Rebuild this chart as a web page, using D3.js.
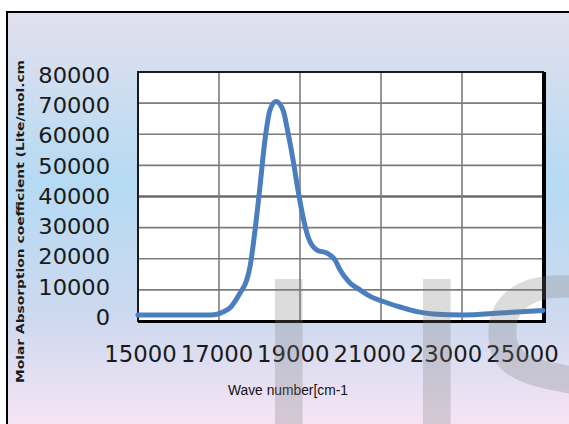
<!DOCTYPE html>
<html>
<head>
<meta charset="utf-8">
<script src="https://cdn.jsdelivr.net/npm/d3@7"></script>
<style>
  html, body { margin: 0; padding: 0; background: #ffffff; }
  svg { display: block; }
</style>
</head>
<body>
<svg id="chart" width="569" height="424"></svg>
<script>
// Absorption spectrum: wave number (cm-1) against molar absorption coefficient
const wavenumbers = [15000, 16000, 16780, 16975, 17110, 17270, 17520, 17685, 17765, 17890,
  18010, 18135, 18260, 18405, 18580, 18705, 18830, 18950, 19075, 19200,
  19420, 19665, 19865, 19990, 20235, 20480, 20720, 21000, 21470, 21890,
  22280, 23030, 23940, 25000];
const absorption = [1900, 1900, 1950, 2250, 3000, 4200, 9000, 13200, 17400, 29200,
  43000, 58200, 67800, 70500, 67800, 60400, 51700, 42100, 33400, 27000,
  22800, 21800, 19600, 16400, 12200, 10000, 8000, 6500, 4500, 3000,
  2250, 1950, 2550, 3400];

const xTicks = [15000, 17000, 19000, 21000, 23000, 25000];
const yTicks = [0, 10000, 20000, 30000, 40000, 50000, 60000, 70000, 80000];
const xTitle = "Wave number[cm-1";
const yTitle = "Molar Absorption coefficient (Lite/mol.cm";
const watermark = ["I", "J", "S"];

const svg = d3.select("#chart");
const W = 569, H = 424;

// Backdrop gradient
const defs = svg.append("defs");
const grad = defs.append("linearGradient")
  .attr("id", "bg").attr("x1", 0).attr("y1", 0).attr("x2", 0).attr("y2", 1);
[[0, "#e2e0ee"], [0.40, "#b5daf3"], [0.72, "#cdd9ef"], [1, "#fbe5f5"]].forEach(([o, c]) =>
  grad.append("stop").attr("offset", o).attr("stop-color", c));

svg.append("rect").attr("x", 7).attr("y", 12).attr("width", W).attr("height", H)
  .attr("fill", "url(#bg)").attr("stroke", "#000").attr("stroke-width", 2);

// Plot area
const plot = { left: 138, top: 72, right: 543, bottom: 321 };
const x = d3.scaleLinear().domain([15000, 25000]).range([plot.left, plot.right]);
const y = d3.scaleLinear().domain([0, 80000]).range([plot.bottom, plot.top]);

// Label positions (the tick text sits on a slightly tighter spread than the grid)
const xLab = d3.scaleLinear().domain([15000, 25000]).range([140, 522]);
const yLab = d3.scaleLinear().domain([0, 80000]).range([317, 75]);

svg.append("rect")
  .attr("x", plot.left).attr("y", plot.top)
  .attr("width", plot.right - plot.left).attr("height", plot.bottom - plot.top)
  .attr("fill", "#ffffff");

// Grid
const grid = svg.append("g").attr("class", "grid");
grid.selectAll("line.h").data(yTicks.slice(1, -1)).join("line")
  .attr("class", "h")
  .attr("x1", plot.left).attr("x2", plot.right)
  .attr("y1", d => y(d)).attr("y2", d => y(d))
  .attr("stroke", d => d === 40000 ? "#6a6a6a" : "#7c7c7c")
  .attr("stroke-width", d => d === 40000 ? 2.6 : 1.6);
grid.selectAll("line.v").data(xTicks.slice(1, -1)).join("line")
  .attr("class", "v")
  .attr("x1", d => x(d)).attr("x2", d => x(d))
  .attr("y1", plot.top).attr("y2", plot.bottom)
  .attr("stroke", "#7c7c7c").attr("stroke-width", 1.6);

// Frame
svg.append("rect")
  .attr("x", plot.left).attr("y", plot.top)
  .attr("width", plot.right - plot.left).attr("height", plot.bottom - plot.top)
  .attr("fill", "none").attr("stroke", "#1a1a1a").attr("stroke-width", 2);
svg.append("line").attr("x1", plot.right + 1).attr("x2", plot.right + 1)
  .attr("y1", plot.top).attr("y2", plot.bottom + 2)
  .attr("stroke", "#000").attr("stroke-width", 4);
svg.append("line").attr("x1", plot.left).attr("x2", plot.right + 3)
  .attr("y1", plot.bottom + 0.5).attr("y2", plot.bottom + 0.5)
  .attr("stroke", "#000").attr("stroke-width", 3);

// Spectrum
const pts = wavenumbers.map((w, i) => [w, absorption[i]]);
const line = d3.line().x(d => x(d[0])).y(d => y(d[1])).curve(d3.curveMonotoneX);
svg.append("path").datum(pts)
  .attr("d", line)
  .attr("fill", "none")
  .attr("stroke", "#4a7ebe")
  .attr("stroke-width", 5)
  .attr("stroke-linejoin", "round")
  .attr("stroke-linecap", "round");

// Axes (labels only)
const gx = svg.append("g").attr("transform", "translate(0,362)")
  .call(d3.axisBottom(xLab).tickValues(xTicks).tickFormat(d3.format("d")).tickSize(0).tickPadding(0));
gx.select(".domain").remove();
gx.selectAll("text")
  .attr("dy", 0).attr("y", 0)
  .attr("font-family", "'DejaVu Sans', sans-serif")
  .attr("font-size", 22.8)
  .attr("fill", "#1a1a1a");

const gy = svg.append("g").attr("transform", "translate(110,0)")
  .call(d3.axisLeft(yLab).tickValues(yTicks).tickFormat(d3.format("d")).tickSize(0).tickPadding(0));
gy.select(".domain").remove();
gy.selectAll("text")
  .attr("x", 0).attr("dy", "0.36em")
  .attr("transform", "scale(1.1,1)")
  .attr("font-family", "'DejaVu Sans', sans-serif")
  .attr("font-size", 20.5)
  .attr("fill", "#1a1a1a");

// Axis titles
svg.append("text")
  .attr("x", 288).attr("y", 395)
  .attr("text-anchor", "middle")
  .attr("textLength", 120).attr("lengthAdjust", "spacingAndGlyphs")
  .attr("font-family", "'Liberation Sans Narrow', 'Liberation Sans', sans-serif")
  .attr("font-size", 14)
  .attr("fill", "#111")
  .text(xTitle);

svg.append("text")
  .attr("transform", "translate(24,221.5) rotate(-90)")
  .attr("text-anchor", "middle")
  .attr("textLength", 323).attr("lengthAdjust", "spacingAndGlyphs")
  .attr("font-family", "'DejaVu Sans', sans-serif")
  .attr("font-weight", "bold")
  .attr("font-size", 11)
  .attr("fill", "#1a1a1a")
  .text(yTitle);

// Watermark lettering
const wm = svg.append("g")
  .attr("font-family", "'DejaVu Sans', sans-serif")
  .attr("font-size", 280)
  .attr("fill", "#7f7f7f")
  .attr("fill-opacity", 0.27);
const wmX = [247.5, 395.5, 470];
wm.selectAll("text").data(watermark).join("text")
  .attr("x", (d, i) => wmX[i]).attr("y", 483)
  .text(d => d);
</script>
</body>
</html>
